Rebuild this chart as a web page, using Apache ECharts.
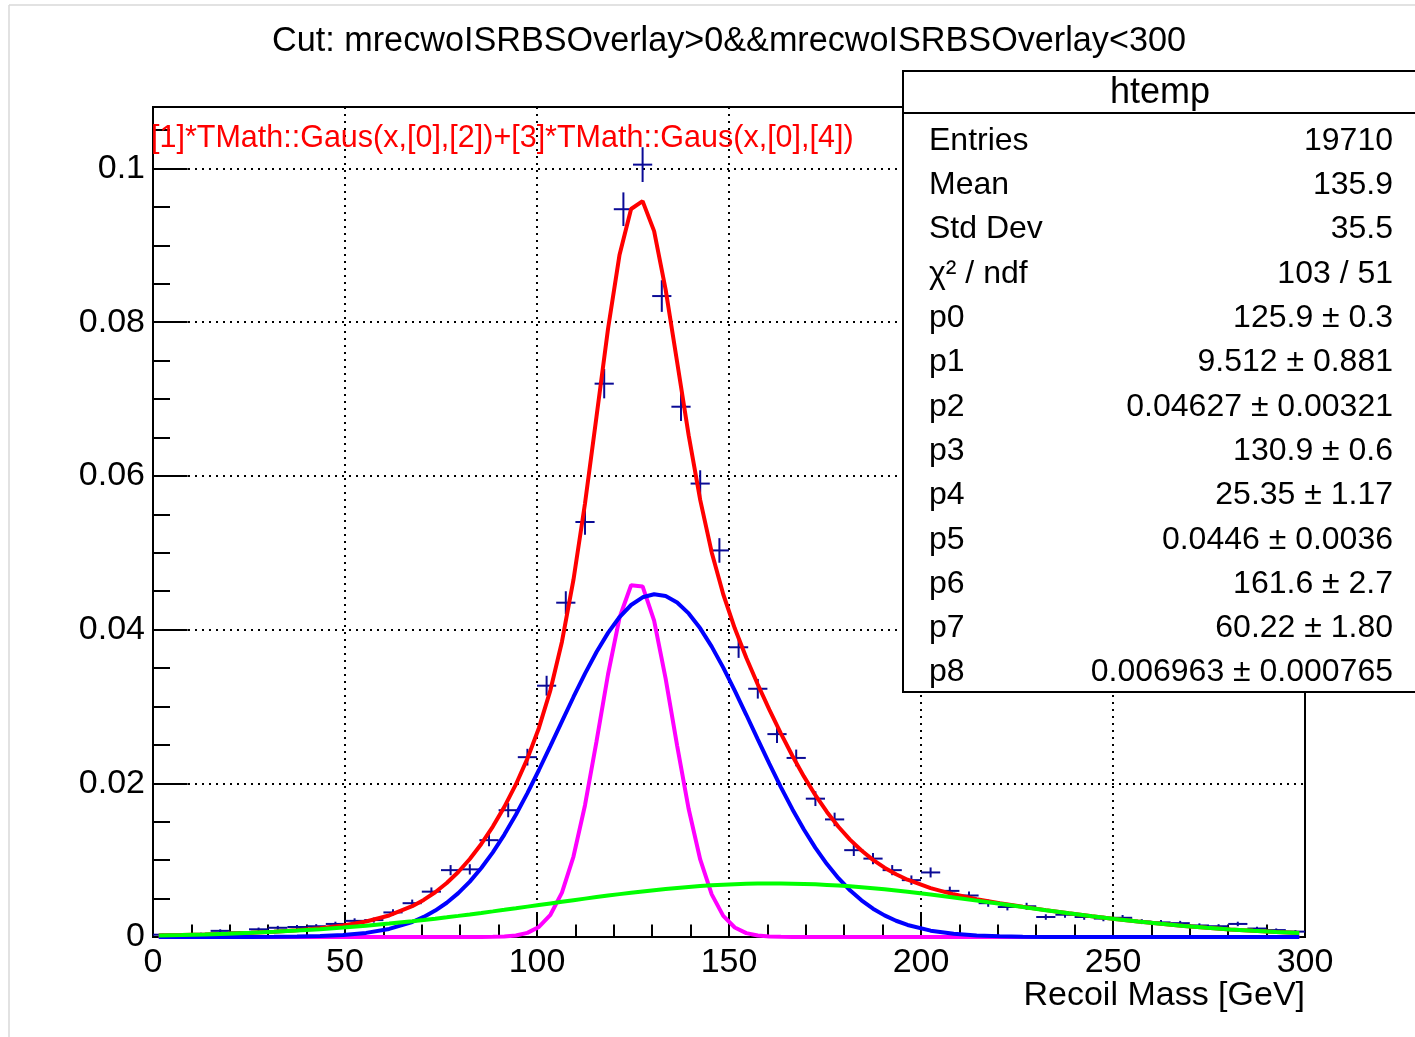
<!DOCTYPE html>
<html>
<head>
<meta charset="utf-8">
<script src="https://cdn.jsdelivr.net/npm/echarts@6/dist/echarts.min.js"></script>
<style>
html,body{margin:0;padding:0;background:#fff;}
#chart{width:1415px;height:1037px;}
</style>
</head>
<body>
<div id="chart"></div>
<script>
// ---------------- data ----------------
const titleText = 'Cut: mrecwoISRBSOverlay>0&&mrecwoISRBSOverlay<300';
const formulaText = '[1]*TMath::Gaus(x,[0],[2])+[3]*TMath::Gaus(x,[0],[4])';
const xTitle = 'Recoil Mass [GeV]';

// histogram bin centers (bin width 5)
const binCenters = [2.5,7.5,12.5,17.5,22.5,27.5,32.5,37.5,42.5,47.5,52.5,57.5,62.5,67.5,72.5,77.5,82.5,87.5,92.5,97.5,
  102.5,107.5,112.5,117.5,122.5,127.5,132.5,137.5,142.5,147.5,152.5,157.5,162.5,167.5,172.5,177.5,182.5,187.5,192.5,197.5,
  202.5,207.5,212.5,217.5,222.5,227.5,232.5,237.5,242.5,247.5,252.5,257.5,262.5,267.5,272.5,277.5,282.5,287.5,292.5,297.5];
const binHalfWidth = 2.5;
const binValues = [0.0003,0.0003,0.0004,0.0008,0.0006,0.0010,0.0012,0.0013,0.0014,0.0017,0.0021,0.0022,0.0032,0.0044,0.0059,0.0087,0.0088,0.0126,0.0165,0.0234,
  0.0327,0.0435,0.0540,0.0720,0.0947,0.1005,0.0834,0.0690,0.0590,0.0503,0.0377,0.0323,0.0264,0.0233,0.0180,0.0153,0.0113,0.0102,0.0087,0.0074,
  0.0084,0.0060,0.0054,0.0044,0.0039,0.0040,0.0026,0.0029,0.0026,0.0024,0.0025,0.0020,0.0019,0.0018,0.0015,0.0014,0.0017,0.0011,0.0009,0.0007];
const binErrors = [0.00012,0.00012,0.00014,0.00020,0.00017,0.00023,0.00025,0.00026,0.00027,0.00029,0.00033,0.00033,0.00040,0.00047,0.00055,0.00066,0.00067,0.00080,0.00092,0.00109,
  0.00129,0.00149,0.00166,0.00191,0.00219,0.00226,0.00206,0.00187,0.00173,0.00160,0.00138,0.00128,0.00116,0.00109,0.00096,0.00088,0.00076,0.00072,0.00066,0.00061,
  0.00065,0.00055,0.00052,0.00047,0.00044,0.00045,0.00036,0.00038,0.00036,0.00035,0.00036,0.00032,0.00031,0.00030,0.00028,0.00027,0.00029,0.00024,0.00021,0.00019];

// fitted curves, sampled along x
const curveX = [1.5,7.5,13.5,19.5,25.5,31.5,37.5,43.5,49.5,55.5,61.5,67.5,
  70.5,73.5,76.5,79.5,82.5,85.5,88.5,91.5,94.5,97.5,100.5,103.5,106.5,109.5,112.5,115.5,118.5,121.5,124.5,127.5,130.5,133.5,136.5,139.5,
  142.5,145.5,148.5,151.5,154.5,157.5,160.5,163.5,166.5,169.5,172.5,175.5,178.5,181.5,184.5,187.5,190.5,193.5,196.5,
  202.5,208.5,214.5,220.5,226.5,232.5,238.5,244.5,250.5,256.5,262.5,268.5,274.5,280.5,286.5,292.5,298.5];
const redY = [0.000203,0.000264,0.00034,0.000433,0.00055,0.000695,0.000883,0.001135,0.001488,0.00201,0.002801,0.004009,
  0.004827,0.005824,0.007025,0.008459,0.010146,0.01211,0.014365,0.016931,0.01985,0.023212,0.027202,0.03213,0.038426,0.04649,0.056416,0.067729,0.079151,0.088785,0.09473,0.095753,0.091848,0.084241,0.074779,0.065266,
  0.056877,0.050043,0.044598,0.040164,0.036335,0.032852,0.029581,0.026487,0.023582,0.020895,0.018453,0.016268,0.014345,0.012677,0.011247,0.010036,0.009018,0.008166,0.007454,
  0.006355,0.005553,0.004928,0.004402,0.003932,0.003497,0.003087,0.002702,0.002342,0.002012,0.001711,0.001441,0.001201,0.000991,0.00081,0.000656,0.000526];
const blueY = [0,0,0.000001,0.000003,0.000008,0.00002,0.00005,0.000117,0.000257,0.000535,0.001052,0.001955,
  0.00261,0.003436,0.00446,0.00571,0.007207,0.008971,0.011012,0.013328,0.015908,0.018723,0.02173,0.024868,0.028065,0.031231,0.034272,0.037085,0.039571,0.041637,0.043201,0.044201,0.044594,0.044366,0.043525,0.042106,
  0.040166,0.037784,0.035048,0.032058,0.028916,0.025719,0.022557,0.019508,0.016637,0.013992,0.011603,0.009488,0.007651,0.006084,0.00477,0.003688,0.002812,0.002114,0.001567,
  0.000826,0.000412,0.000194,0.000086,0.000036,0.000015,0.000006,0.000002,0,0,0,0,0,0,0,0,0];
const magentaY = [0,0,0,0,0,0,0,0,0,0,0,0,
  0,0,0,0,0,0.000006,0.00002,0.000067,0.000199,0.000537,0.00131,0.00289,0.00578,0.01047,0.01715,0.02545,0.03419,0.04157,0.04577,0.04562,0.04116,0.03363,0.02487,0.01665,
  0.01009,0.00554,0.00275,0.00124,0.000504,0.000186,0.000062,0.000019,0.000005,0,0,0,0,0,0,0,0,0,0,
  0,0,0,0,0,0,0,0,0,0,0,0,0,0,0,0,0];
const greenY = [0.000203,0.000264,0.000339,0.00043,0.000542,0.000675,0.000833,0.001018,0.001231,0.001475,0.001749,0.002054,
  0.002217,0.002388,0.002565,0.002749,0.002939,0.003133,0.003333,0.003536,0.003743,0.003952,0.004162,0.004372,0.004581,0.004789,0.004994,0.005194,0.00539,0.005578,0.005759,0.005932,0.006094,0.006245,0.006384,0.00651,
  0.006621,0.006719,0.0068,0.006866,0.006915,0.006947,0.006962,0.00696,0.00694,0.006903,0.00685,0.00678,0.006694,0.006593,0.006477,0.006348,0.006206,0.006052,0.005887,
  0.005529,0.005141,0.004734,0.004316,0.003896,0.003482,0.003081,0.0027,0.002342,0.002012,0.001711,0.001441,0.001201,0.000991,0.00081,0.000656,0.000526];

// stats box
const statsTitle = 'htemp';
const statsLabels = ['Entries','Mean','Std Dev','\u03c7\u00b2 / ndf','p0','p1','p2','p3','p4','p5','p6','p7','p8'];
const statsValues = ['19710','135.9','35.5','103 / 51','125.9 \u00b1 0.3','9.512 \u00b1 0.881','0.04627 \u00b1 0.00321',
  '130.9 \u00b1 0.6','25.35 \u00b1 1.17','0.0446 \u00b1 0.0036','161.6 \u00b1 2.7','60.22 \u00b1 1.80','0.006963 \u00b1 0.000765'];

const xTicks = {min:0, max:300, interval:50};
const yTicks = {min:0, max:0.108, interval:0.02, minor:0.005};

// ---------------- chart ----------------
const FONT = '"Liberation Sans", Arial, Helvetica, sans-serif';
const chart = echarts.init(document.getElementById('chart'), null, {renderer:'canvas'});

const histData = binCenters.map((c,i)=>[c, binValues[i], binErrors[i]]);
const pairs = ys => curveX.map((x,i)=>[x, ys[i]]);

const G = {left:153, top:107, width:1152, height:830};

const graphics = [];
// canvas border
graphics.push({type:'line', z:0, shape:{x1:9,y1:5,x2:1415,y2:5}, style:{stroke:'#d8d8d8', lineWidth:1.5}});
graphics.push({type:'line', z:0, shape:{x1:9,y1:5,x2:9,y2:1037}, style:{stroke:'#d8d8d8', lineWidth:1.5}});
// title
graphics.push({type:'text', z:50, style:{text:titleText, x:729, y:41.5, fontSize:34.2, fontFamily:FONT, fill:'#000', align:'center', verticalAlign:'middle'}});
// formula
graphics.push({type:'text', z:50, style:{text:formulaText, x:151, y:138.5, fontSize:30.5, fontFamily:FONT, fill:'#ff0000', align:'left', verticalAlign:'middle'}});
// x axis title
graphics.push({type:'text', z:50, style:{text:xTitle, x:1305, y:996, fontSize:34, fontFamily:FONT, fill:'#000', align:'right', verticalAlign:'middle'}});
// stats box
graphics.push({type:'rect', z:100, shape:{x:903, y:71, width:530, height:621}, style:{fill:'#fff', stroke:'#000', lineWidth:2}});
graphics.push({type:'line', z:101, shape:{x1:903,y1:113,x2:1415,y2:113}, style:{stroke:'#000', lineWidth:2}});
graphics.push({type:'text', z:102, style:{text:statsTitle, x:1160, y:93.5, fontSize:36, fontFamily:FONT, fill:'#000', align:'center', verticalAlign:'middle'}});
statsLabels.forEach((l,i)=>{
  const y = 141 + i*44.3;
  graphics.push({type:'text', z:102, style:{text:l, x:929, y:y, fontSize:32, fontFamily:FONT, fill:'#000', align:'left', verticalAlign:'middle'}});
  graphics.push({type:'text', z:102, style:{text:statsValues[i], x:1393, y:y, fontSize:32, fontFamily:FONT, fill:'#000', align:'right', verticalAlign:'middle'}});
});

const dotted = {color:'#000', width:2, type:[2,5]};

const option = {
  animation:false,
  backgroundColor:'#fff',
  grid:{left:G.left, top:G.top, width:G.width, height:G.height, show:true, borderColor:'#000', borderWidth:2, backgroundColor:'transparent', containLabel:false},
  xAxis:{
    type:'value', min:xTicks.min, max:xTicks.max, interval:xTicks.interval,
    axisLine:{show:true, onZero:false, lineStyle:{color:'#000', width:2}},
    axisTick:{show:true, inside:true, length:25, lineStyle:{color:'#000', width:2}},
    minorTick:{show:true, splitNumber:5, length:12.5, lineStyle:{color:'#000', width:2}},
    axisLabel:{show:true, margin:9, fontSize:34, fontFamily:FONT, color:'#000', showMinLabel:true, showMaxLabel:true},
    splitLine:{show:true, lineStyle:dotted},
    minorSplitLine:{show:false}
  },
  yAxis:[{
    type:'value', min:yTicks.min, max:yTicks.max, interval:yTicks.interval,
    axisLine:{show:true, lineStyle:{color:'#000', width:2}},
    axisTick:{show:true, inside:true, length:34.6, lineStyle:{color:'#000', width:2}},
    axisLabel:{show:true, margin:8, fontSize:34, fontFamily:FONT, color:'#000', showMaxLabel:false, padding:[4,0,0,0],
      formatter:function(v){ if (v > 0.1001) return ''; return String(parseFloat(v.toFixed(4))); }},
    splitLine:{show:true, lineStyle:dotted}
  },{
    type:'value', min:yTicks.min, max:yTicks.max, interval:yTicks.minor, position:'left',
    axisLine:{show:false},
    axisTick:{show:true, inside:true, length:17, lineStyle:{color:'#000', width:2}},
    axisLabel:{show:false},
    splitLine:{show:false}
  }],
  graphic:graphics,
  series:[
    {
      type:'custom', name:'htemp', z:2, xAxisIndex:0, yAxisIndex:0, clip:true,
      data:histData,
      encode:{x:0, y:1},
      renderItem:function(params, api){
        const c = api.value(0), v = api.value(1), e = api.value(2);
        const l = api.coord([c-binHalfWidth, v]);
        const r = api.coord([c+binHalfWidth, v]);
        const t = api.coord([c, v+e]);
        const b = api.coord([c, Math.max(0, v-e)]);
        const st = {stroke:'#0a0a96', lineWidth:2};
        return {type:'group', children:[
          {type:'line', shape:{x1:l[0], y1:l[1], x2:r[0], y2:r[1]}, style:st},
          {type:'line', shape:{x1:t[0], y1:t[1], x2:b[0], y2:b[1]}, style:st}
        ]};
      }
    },
    {type:'line', name:'fit', z:3, data:pairs(redY), showSymbol:false, symbol:'none', clip:true,
      lineStyle:{color:'#ff0000', width:4}},
    {type:'line', name:'g1', z:4, data:pairs(magentaY), showSymbol:false, symbol:'none', clip:true,
      lineStyle:{color:'#ff00ff', width:4}},
    {type:'line', name:'g2', z:5, data:pairs(blueY), showSymbol:false, symbol:'none', clip:true,
      lineStyle:{color:'#0000ff', width:4}},
    {type:'line', name:'g3', z:6, data:pairs(greenY), showSymbol:false, symbol:'none', clip:true,
      lineStyle:{color:'#00ff00', width:4}}
  ]
};
chart.setOption(option);
</script>
</body>
</html>
